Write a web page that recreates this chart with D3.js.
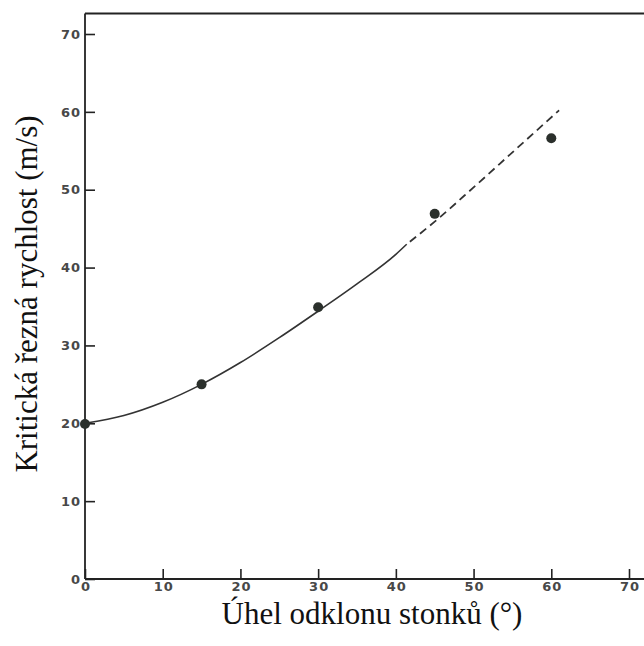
<!DOCTYPE html>
<html>
<head>
<meta charset="utf-8">
<script src="https://cdn.jsdelivr.net/npm/d3@7"></script>
<style>
body { margin: 0; background: #fff; }
.tick text { font-family: "DejaVu Sans", sans-serif; font-size: 13px; font-weight: bold; fill: #484848; letter-spacing: 1px; }
.tick line { stroke: #222; stroke-width: 1.6px; }
.label { font-family: "Liberation Serif", "Times New Roman", serif; font-size: 31px; fill: #111; }
</style>
</head>
<body>
<script>
// measured points (angle in degrees, critical cutting speed m/s)
var pointX = [0, 15, 30, 45, 60];
var pointY = [19.9, 25.0, 34.9, 46.9, 56.6];
// fitted curve, solid part
var curveX = [0, 5, 10, 15, 20, 25, 30, 35, 40, 41.4];
var curveY = [20, 21.0, 22.7, 25.0, 27.8, 31.0, 34.4, 37.9, 41.7, 43.0];
// fitted curve, dashed extrapolation
var dashX = [41.4, 45, 50, 55, 61];
var dashY = [43.0, 45.9, 50.3, 54.8, 60.2];
var xTicks = [0, 10, 20, 30, 40, 50, 60, 70];
var yTicks = [0, 10, 20, 30, 40, 50, 60, 70];

var width = 644, height = 646;

var svg = d3.select("body").append("svg")
  .attr("width", width)
  .attr("height", height);

var x = d3.scaleLinear().domain([0, 70]).range([85, 629]);
var y = d3.scaleLinear().domain([0, 70]).range([579, 34]);

// frame: left axis, bottom axis and top line (no right border, image is cut off)
var frame = svg.append("g").attr("stroke", "#222").attr("stroke-width", 1.8).attr("fill", "none");
frame.append("line").attr("x1", x(0)).attr("x2", x(0)).attr("y1", y(0)).attr("y2", 13.5);
frame.append("line").attr("x1", x(0)).attr("x2", width).attr("y1", y(0)).attr("y2", y(0));
frame.append("line").attr("x1", x(0)).attr("x2", width).attr("y1", 13.5).attr("y2", 13.5);

// axes with inward ticks
var xAxis = svg.append("g")
  .attr("transform", "translate(0," + y(0) + ")")
  .call(d3.axisBottom(x).tickValues(xTicks).tickSize(-10).tickPadding(3).tickFormat(d3.format("d")));
xAxis.select(".domain").remove();
xAxis.selectAll(".tick text").attr("dx", 0.5);

var yAxis = svg.append("g")
  .attr("transform", "translate(" + x(0) + ",0)")
  .call(d3.axisLeft(y).tickValues(yTicks).tickSize(-10).tickPadding(4).tickFormat(d3.format("d")));
yAxis.select(".domain").remove();

// curve
var line = d3.line()
  .x(function(d) { return x(d[0]); })
  .y(function(d) { return y(d[1]); })
  .curve(d3.curveMonotoneX);

svg.append("path")
  .datum(d3.zip(curveX, curveY))
  .attr("d", line)
  .attr("fill", "none")
  .attr("stroke", "#333")
  .attr("stroke-width", 1.6);

svg.append("path")
  .datum(d3.zip(dashX, dashY))
  .attr("d", line)
  .attr("fill", "none")
  .attr("stroke", "#333")
  .attr("stroke-width", 1.8)
  .attr("stroke-dasharray", "8,5")
  .attr("stroke-dashoffset", -4);

// points
svg.selectAll("circle.pt")
  .data(d3.zip(pointX, pointY))
  .enter().append("circle")
  .attr("class", "pt")
  .attr("cx", function(d) { return x(d[0]); })
  .attr("cy", function(d) { return y(d[1]); })
  .attr("r", 5)
  .attr("fill", "#2b302c");

// axis titles
svg.append("text")
  .attr("class", "label")
  .attr("x", 372)
  .attr("y", 624)
  .attr("text-anchor", "middle")
  .text("Úhel odklonu stonků (°)");

svg.append("text")
  .attr("class", "label")
  .attr("transform", "translate(37,294) rotate(-90)")
  .attr("text-anchor", "middle")
  .text("Kritická řezná rychlost (m/s)");
</script>
</body>
</html>
